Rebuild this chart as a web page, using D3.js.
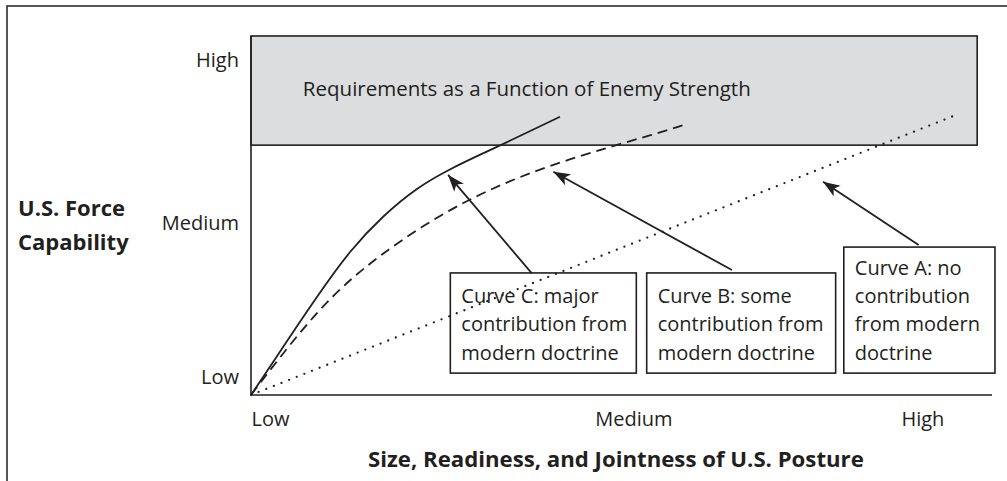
<!DOCTYPE html>
<html>
<head>
<meta charset="utf-8">
<script src="https://d3js.org/d3.v7.min.js"></script>
<style>
  body { margin: 0; background: #fff; }
  text { font-family: "Open Sans", sans-serif; fill: #231f20; }
</style>
</head>
<body>
<div id="chart"></div>
<script>
// tick labels (positions in axis units, 0..100)
var xTickLabels = ["Low", "Medium", "High"];
var xTickValues = [0, 51.6, 90.6];
var yTickLabels = ["Low", "Medium", "High"];
var yTickValues = [5, 47.9, 93.3];

// curves, [x, y] in axis units
var curveC = [[0, 0], [4.4, 13.6], [8.9, 27.3], [13.4, 39.9], [17.9, 49.8], [22.4, 57.4],
  [26.9, 62.9], [31.3, 67.3], [35.0, 70.9], [41.7, 77.5]];
var curveB = [[0, 0], [6.6, 17.3], [14.7, 34.3], [26.9, 51.5], [40.4, 63.8], [53.8, 72.3], [58.8, 75.5]];
var curveA = [[0, 0], [95.5, 78.3]];

// shaded requirements band: x extent, y extent
var bandX = [0, 98];
var bandY = [69.6, 100];
var bandLabel = "Requirements as a Function of Enemy Strength";
var bandLabelAt = [7.0, 83.3];

// call-out boxes: [x0, x1, top, bottom], arrow tail and tip
var calloutText = [
  ["Curve C: major", "contribution from", "modern doctrine"],
  ["Curve B: some", "contribution from", "modern doctrine"],
  ["Curve A: no", "contribution", "from modern", "doctrine"]
];
var calloutBox = [[26.9, 52.0, 34.0, 6.1], [53.4, 78.9, 34.0, 6.1], [80.0, 100.4, 41.2, 6.1]];
var arrowTail = [[37.9, 33.9], [64.9, 34.8], [90.1, 41.8]];
var arrowTip = [[26.6, 61.3], [40.8, 62.2], [77.2, 59.4]];

var yTitle = ["U.S. Force", "Capability"];
var xTitle = "Size, Readiness, and Jointness of U.S. Posture";

let dim = { width: 1007, height: 481 };
let ink = "#231f20";

let svg = d3.select("#chart").append("svg")
  .attr("width", dim.width)
  .attr("height", dim.height);

let x = d3.scaleLinear().domain([0, 100]).range([251, 992]);
let y = d3.scaleLinear().domain([0, 100]).range([395, 36]);

// outer frame (runs off the right and bottom of the picture)
svg.append("rect")
  .attr("x", 7).attr("y", 6)
  .attr("width", 1010).attr("height", 490)
  .attr("fill", "none").attr("stroke", ink).attr("stroke-width", 1.5);

svg.append("defs").append("marker")
  .attr("id", "head")
  .attr("markerUnits", "userSpaceOnUse")
  .attr("markerWidth", 20).attr("markerHeight", 20)
  .attr("viewBox", "-17 -8 19 16")
  .attr("refX", 0).attr("refY", 0)
  .attr("orient", "auto")
  .append("path")
  .attr("d", "M0,0 L-16,-6 L-12,0 L-16,6 Z")
  .attr("fill", ink);

// requirements band
svg.append("rect")
  .attr("x", x(bandX[0])).attr("y", y(bandY[1]))
  .attr("width", x(bandX[1]) - x(bandX[0]))
  .attr("height", y(bandY[0]) - y(bandY[1]))
  .attr("fill", "#dcdddf").attr("stroke", ink).attr("stroke-width", 1.6);

svg.append("text")
  .attr("x", x(bandLabelAt[0])).attr("y", y(bandLabelAt[1]))
  .attr("font-size", 20.5)
  .text(bandLabel);

// axes lines
svg.append("line")
  .attr("x1", x(0)).attr("x2", x(0))
  .attr("y1", y(100)).attr("y2", y(0))
  .attr("stroke", ink).attr("stroke-width", 1.6);
svg.append("line")
  .attr("x1", x(0)).attr("x2", x(100))
  .attr("y1", y(0)).attr("y2", y(0))
  .attr("stroke", ink).attr("stroke-width", 1.6);

// tick labels through d3 axes
let yAxis = svg.append("g")
  .attr("transform", "translate(" + (x(0) - 12) + ",0)")
  .call(d3.axisLeft(y).tickValues(yTickValues)
    .tickFormat((d, i) => yTickLabels[i]).tickSize(0).tickPadding(0));
yAxis.select(".domain").remove();
yAxis.selectAll("text")
  .attr("font-size", 20).attr("font-family", "Open Sans").attr("fill", ink);

let xAxis = svg.append("g")
  .attr("transform", "translate(0," + (y(0) + 17) + ")")
  .call(d3.axisBottom(x).tickValues(xTickValues)
    .tickFormat((d, i) => xTickLabels[i]).tickSize(0).tickPadding(0));
xAxis.select(".domain").remove();
xAxis.selectAll("text")
  .attr("font-size", 20).attr("font-family", "Open Sans").attr("fill", ink)
  .attr("text-anchor", (d, i) => (i == 0 ? "start" : "middle"));

// curves
let line = d3.line()
  .x((d) => x(d[0]))
  .y((d) => y(d[1]))
  .curve(d3.curveNatural);

svg.append("path").datum(curveC)
  .attr("d", line).attr("fill", "none")
  .attr("stroke", ink).attr("stroke-width", 1.8);
svg.append("path").datum(curveB)
  .attr("d", line).attr("fill", "none")
  .attr("stroke", ink).attr("stroke-width", 1.8)
  .attr("stroke-dasharray", "10 6");
svg.append("path").datum(curveA)
  .attr("d", line).attr("fill", "none")
  .attr("stroke", ink).attr("stroke-width", 2.3)
  .attr("stroke-linecap", "round")
  .attr("stroke-dasharray", "0 8.2");

// call-out boxes and arrows
calloutBox.forEach(function (b, i) {
  svg.append("rect")
    .attr("x", x(b[0])).attr("y", y(b[2]))
    .attr("width", x(b[1]) - x(b[0]))
    .attr("height", y(b[3]) - y(b[2]))
    .attr("fill", "none").attr("stroke", ink).attr("stroke-width", 1.6);

  let lines = calloutText[i];
  svg.append("g").selectAll("text")
    .data(lines)
    .join("text")
    .attr("x", x(b[0]) + 11)
    .attr("y", (d, j) => y(b[3]) - 13.5 - (lines.length - 1 - j) * 28.3)
    .attr("font-size", 20)
    .text((d) => d);

  svg.append("line")
    .attr("x1", x(arrowTail[i][0])).attr("y1", y(arrowTail[i][1]))
    .attr("x2", x(arrowTip[i][0])).attr("y2", y(arrowTip[i][1]))
    .attr("stroke", ink).attr("stroke-width", 1.8)
    .attr("marker-end", "url(#head)");
});

// axis titles
svg.append("g").selectAll("text")
  .data(yTitle)
  .join("text")
  .attr("x", 18)
  .attr("y", (d, i) => 216 + i * 34)
  .attr("font-size", 22).attr("font-weight", "bold")
  .text((d) => d);

svg.append("text")
  .attr("x", 368).attr("y", 467)
  .attr("font-size", 22.2).attr("font-weight", "bold")
  .text(xTitle);
</script>
</body>
</html>
